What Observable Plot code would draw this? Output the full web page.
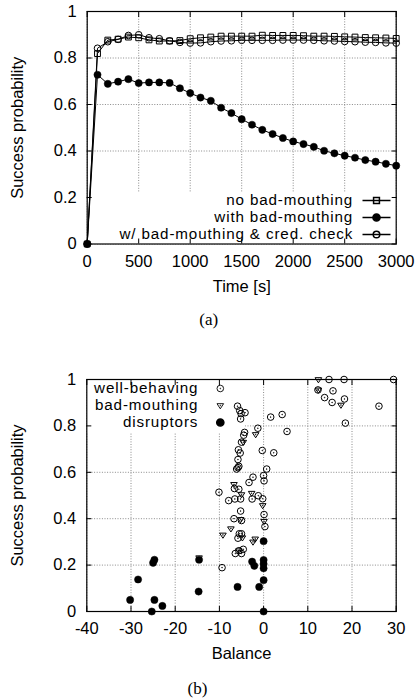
<!DOCTYPE html>
<html>
<head>
<meta charset="utf-8">
<script src="https://cdn.jsdelivr.net/npm/d3@7"></script>
<script src="https://cdn.jsdelivr.net/npm/@observablehq/plot@0.6"></script>
<style>
  html, body { margin: 0; padding: 0; background: white; }
  #wrap { position: relative; width: 418px; height: 700px; overflow: hidden; background: white; }
  #chartA { position: absolute; left: 0; top: 0; }
  #chartB { position: absolute; left: 0; top: 340px; }
</style>
</head>
<body>
<div id="wrap">
  <div id="chartA"></div>
  <div id="chartB"></div>
</div>
<script>
// ---------- Data: chart (a) ----------
const times = [0,100,200,300,400,500,600,700,800,900,1000,1100,1200,1300,1400,1500,1600,1700,1800,1900,2000,2100,2200,2300,2400,2500,2600,2700,2800,2900,3000];
const noBadMouthing = [0,0.819,0.877,0.881,0.890,0.887,0.878,0.873,0.873,0.875,0.883,0.887,0.890,0.894,0.894,0.894,0.894,0.898,0.897,0.897,0.897,0.896,0.894,0.894,0.893,0.891,0.890,0.888,0.887,0.886,0.884];
const withBadMouthing = [0,0.728,0.689,0.698,0.709,0.692,0.695,0.695,0.693,0.670,0.649,0.630,0.616,0.586,0.563,0.537,0.513,0.491,0.473,0.456,0.441,0.430,0.418,0.401,0.390,0.380,0.371,0.361,0.354,0.345,0.337];
const credCheck = [0,0.842,0.870,0.880,0.897,0.900,0.887,0.883,0.874,0.867,0.864,0.865,0.870,0.873,0.874,0.876,0.876,0.876,0.876,0.877,0.877,0.877,0.876,0.874,0.873,0.871,0.870,0.868,0.867,0.865,0.864];
const seriesNamesA = ["no bad-mouthing", "with bad-mouthing", "w/ bad-mouthing & cred. check"];
const xTicksA = [0,500,1000,1500,2000,2500,3000];
const yTicks = [0,0.2,0.4,0.6,0.8,1];

// ---------- Data: chart (b) ----------
const wellBehaving = [
  [14.8,1.0],[18.2,1.0],[29.4,1.0],[12.3,0.955],[15.7,0.951],[13.8,0.922],[15.5,0.901],[18.3,0.916],[26.1,0.885],[18.5,0.812],
  [1.6,0.838],[4.2,0.849],[5.3,0.776],[2.3,0.684],[-0.3,0.694],[0.7,0.614],[0.0,0.586],[0.1,0.563],[-1.3,0.790],
  [-5.9,0.885],[-5.4,0.866],[-5.1,0.853],[-4.2,0.857],[-5.2,0.830],
  [-4.3,0.772],[-4.5,0.760],[-5.0,0.730],[-5.7,0.697],[-5.3,0.683],[-5.8,0.655],[-5.6,0.626],[-6.1,0.614],[-5.8,0.620],
  [-2.4,0.579],[-3.3,0.556],[-6.6,0.530],[-5.6,0.527],[-10.1,0.514],
  [-7.9,0.478],[-6.5,0.485],[-5.2,0.485],[-2.6,0.485],[-1.2,0.499],[-0.2,0.486],
  [-5.2,0.433],[-5.0,0.392],[-6.7,0.400],[0.1,0.418],[0.3,0.366],
  [-5.5,0.335],[-5.0,0.335],[-5.8,0.316],
  [-6.4,0.250],[-5.6,0.262],[-5.0,0.250],[-4.6,0.268],[-9.4,0.189]
];
const badMouthing = [
  [12.4,1.0],[12.4,0.955],[17.5,0.890],[-1.8,0.763],[-4.6,0.730],[-6.7,0.548],[-5.0,0.504],[-2.7,0.510],[-0.2,0.457],
  [0.1,0.389],[-9.2,0.330],[-7.4,0.357],[-4.8,0.318],[-1.9,0.313],[-2.4,0.300],[-5.6,0.262],[-5.2,0.397],[-14.6,0.232]
];
const disruptors = [
  [0,0.303],[0,0.222],[0,0.205],[0,0.186],[0,0.135],[0,0.0],[-2.6,0.215],[-2.1,0.197],[-1.0,0.106],[-5.9,0.106],
  [-14.6,0.223],[-14.7,0.086],[-24.7,0.223],[-25.0,0.210],[-28.4,0.138],[-30.2,0.050],[-24.7,0.050],[-22.9,0.024],[-25.3,0.0]
];
const groupNamesB = ["well-behaving", "bad-mouthing", "disruptors"];
const xTicksB = [-40,-30,-20,-10,0,10,20,30];

// ---------- Styling helpers ----------
const FONT = "'Liberation Sans', Arial, Helvetica, sans-serif";
const SERIF = "'Liberation Serif', 'Times New Roman', serif";
const LEGEND_FS = 15.2;
const LEGEND_SPACING = "0.87px";
const fmtY = d => String(+(+d).toFixed(1));
const gridStyle = {stroke: "#8a8a8a", strokeOpacity: 1, strokeWidth: 1, strokeDasharray: "1,1.6"};

const circleSym = {draw(ctx, size) { const r = Math.sqrt(size / Math.PI); ctx.moveTo(r, 0); ctx.arc(0, 0, r, 0, 2 * Math.PI); }};
const squareSym = {draw(ctx, size) { const w = Math.sqrt(size); ctx.rect(-w / 2, -w / 2, w, w); }};
const circleDot = {draw(ctx, size) {
  const r = Math.sqrt(size / Math.PI);
  ctx.moveTo(r, 0); ctx.arc(0, 0, r, 0, 2 * Math.PI);
  ctx.moveTo(0.35, 0); ctx.arc(0, 0, 0.35, 0, 2 * Math.PI);
}};
const triDown = {draw(ctx, size) {
  const s = Math.sqrt(size / Math.PI);
  ctx.moveTo(-s, -s * 0.55); ctx.lineTo(s, -s * 0.55); ctx.lineTo(0, s); ctx.closePath();
  ctx.moveTo(0.35, 0); ctx.arc(0, 0, 0.35, 0, 2 * Math.PI);
}};
const withLine = (base, half) => ({draw(ctx, size) { ctx.moveTo(-half, 0); ctx.lineTo(half, 0); base.draw(ctx, size); }});

function innerTicks(xt, yt) {
  const c = {tickSize: 5, tickFormat: () => "", label: null, strokeWidth: 1};
  return [
    Plot.axisX(xt, {...c, anchor: "bottom", dy: -5}),
    Plot.axisX(xt, {...c, anchor: "top", dy: 5}),
    Plot.axisY(yt, {...c, anchor: "left", dx: 5}),
    Plot.axisY(yt, {...c, anchor: "right", dx: -5})
  ];
}
function spaceLegend(svg, names) {
  d3.select(svg).selectAll("text")
    .filter(function () { return names.includes(this.textContent); })
    .attr("letter-spacing", LEGEND_SPACING);
}

// ---------- Chart (a) ----------
const tableA = times.map((t, i) => ({t, noBad: noBadMouthing[i], withBad: withBadMouthing[i], cred: credCheck[i]}));

const chartA = Plot.plot({
  width: 418, height: 340,
  marginLeft: 86.7, marginRight: 22.3, marginTop: 11, marginBottom: 96.5,
  style: {fontFamily: FONT, fontSize: "16.5px", color: "black", background: "white"},
  x: {domain: [0, 3000], label: null},
  y: {domain: [0, 1], label: null},
  marks: [
    Plot.gridX(xTicksA, gridStyle),
    Plot.gridY(yTicks, gridStyle),
    Plot.frame({fill: "white", stroke: "none", insetTop: 181}),
    Plot.axisX(xTicksA, {anchor: "bottom", tickSize: 0, tickPadding: 11, label: null, tickFormat: d => String(d)}),
    Plot.axisY(yTicks, {anchor: "left", tickSize: 0, tickPadding: 10.5, label: null, tickFormat: fmtY}),
    ...innerTicks(xTicksA, yTicks),
    Plot.line(tableA, {x: "t", y: "noBad", stroke: "black", strokeWidth: 1}),
    Plot.line(tableA, {x: "t", y: "withBad", stroke: "black", strokeWidth: 1}),
    Plot.line(tableA, {x: "t", y: "cred", stroke: "black", strokeWidth: 1}),
    Plot.dot(tableA, {x: "t", y: "noBad", symbol: squareSym, r: 3.3, stroke: "black", fill: "none", strokeWidth: 1}),
    Plot.dot(tableA, {x: "t", y: "cred", symbol: circleSym, r: 3.3, stroke: "black", fill: "none", strokeWidth: 1}),
    Plot.dot(tableA, {x: "t", y: "withBad", symbol: circleSym, r: 3.6, stroke: "black", fill: "black", strokeWidth: 0.5}),
    // legend
    ...seriesNamesA.map((name, i) => Plot.text([name], {text: d => d, frameAnchor: "bottom-right", dx: -43, dy: -43.5 + i * 17, textAnchor: "end", lineAnchor: "middle", fontSize: LEGEND_FS})),
    Plot.dot([0], {frameAnchor: "bottom-right", dx: -19.7, dy: -43.5, symbol: withLine(squareSym, 14), r: 3.3, stroke: "black", fill: "none"}),
    Plot.dot([0], {frameAnchor: "bottom-right", dx: -19.7, dy: -26.5, symbol: withLine(circleSym, 14), r: 3.6, stroke: "black", fill: "black"}),
    Plot.dot([0], {frameAnchor: "bottom-right", dx: -19.7, dy: -9.5, symbol: withLine(circleSym, 14), r: 3.3, stroke: "black", fill: "none"}),
    // axis titles
    Plot.text(["Time [s]"], {text: d => d, frameAnchor: "bottom", dy: 42.5, lineAnchor: "middle"}),
    Plot.text(["Success probability"], {text: d => d, frameAnchor: "left", dx: -69.7, rotate: -90, lineAnchor: "middle", textAnchor: "middle"}),
    Plot.text(["(a)"], {text: d => d, frameAnchor: "bottom", dx: -33, dy: 75.5, lineAnchor: "middle", fontFamily: SERIF, fontSize: 17}),
    Plot.frame({stroke: "black", strokeWidth: 1.2})
  ]
});
spaceLegend(chartA, seriesNamesA);
document.getElementById("chartA").appendChild(chartA);

// ---------- Chart (b) ----------
const toRows = arr => arr.map(([x, y]) => ({x, y}));

const chartB = Plot.plot({
  width: 418, height: 360,
  marginLeft: 86.3, marginRight: 22.3, marginTop: 39, marginBottom: 89,
  style: {fontFamily: FONT, fontSize: "16.5px", color: "black", background: "white"},
  x: {domain: [-40, 30], label: null},
  y: {domain: [0, 1], label: null},
  marks: [
    Plot.gridX(xTicksB, gridStyle),
    Plot.gridY(yTicks, gridStyle),
    Plot.frame({fill: "white", stroke: "none", insetRight: 151.7, insetBottom: 179}),
    Plot.axisX(xTicksB, {anchor: "bottom", tickSize: 0, tickPadding: 11, label: null, tickFormat: d => String(d)}),
    Plot.axisY(yTicks, {anchor: "left", tickSize: 0, tickPadding: 10.5, label: null, tickFormat: fmtY}),
    ...innerTicks(xTicksB, yTicks),
    Plot.dot(toRows(wellBehaving), {x: "x", y: "y", symbol: circleDot, r: 3.3, stroke: "black", fill: "none", strokeWidth: 1}),
    Plot.dot(toRows(badMouthing), {x: "x", y: "y", symbol: triDown, r: 3.3, stroke: "black", fill: "none", strokeWidth: 1}),
    Plot.dot(toRows(disruptors), {x: "x", y: "y", symbol: circleSym, r: 3.6, stroke: "black", fill: "black", strokeWidth: 0.5}),
    // legend
    ...groupNamesB.map((name, i) => Plot.text([name], {text: d => d, frameAnchor: "top-left", dx: 111.5, dy: 9 + i * 17, textAnchor: "end", lineAnchor: "middle", fontSize: LEGEND_FS})),
    Plot.dot([0], {frameAnchor: "top-left", dx: 133.5, dy: 9, symbol: circleDot, r: 3.3, stroke: "black", fill: "none", strokeWidth: 0.9}),
    Plot.dot([0], {frameAnchor: "top-left", dx: 133.5, dy: 26, symbol: triDown, r: 3.3, stroke: "black", fill: "none", strokeWidth: 0.9}),
    Plot.dot([0], {frameAnchor: "top-left", dx: 133.5, dy: 43, symbol: circleSym, r: 3.6, stroke: "black", fill: "black"}),
    // axis titles
    Plot.text(["Balance"], {text: d => d, frameAnchor: "bottom", dy: 42, lineAnchor: "middle"}),
    Plot.text(["Success probability"], {text: d => d, frameAnchor: "left", dx: -69.3, rotate: -90, lineAnchor: "middle", textAnchor: "middle"}),
    Plot.text(["(b)"], {text: d => d, frameAnchor: "bottom", dx: -44, dy: 77.5, lineAnchor: "middle", fontFamily: SERIF, fontSize: 17}),
    Plot.frame({stroke: "black", strokeWidth: 1.2})
  ]
});
spaceLegend(chartB, groupNamesB);
document.getElementById("chartB").appendChild(chartB);
</script>
</body>
</html>
